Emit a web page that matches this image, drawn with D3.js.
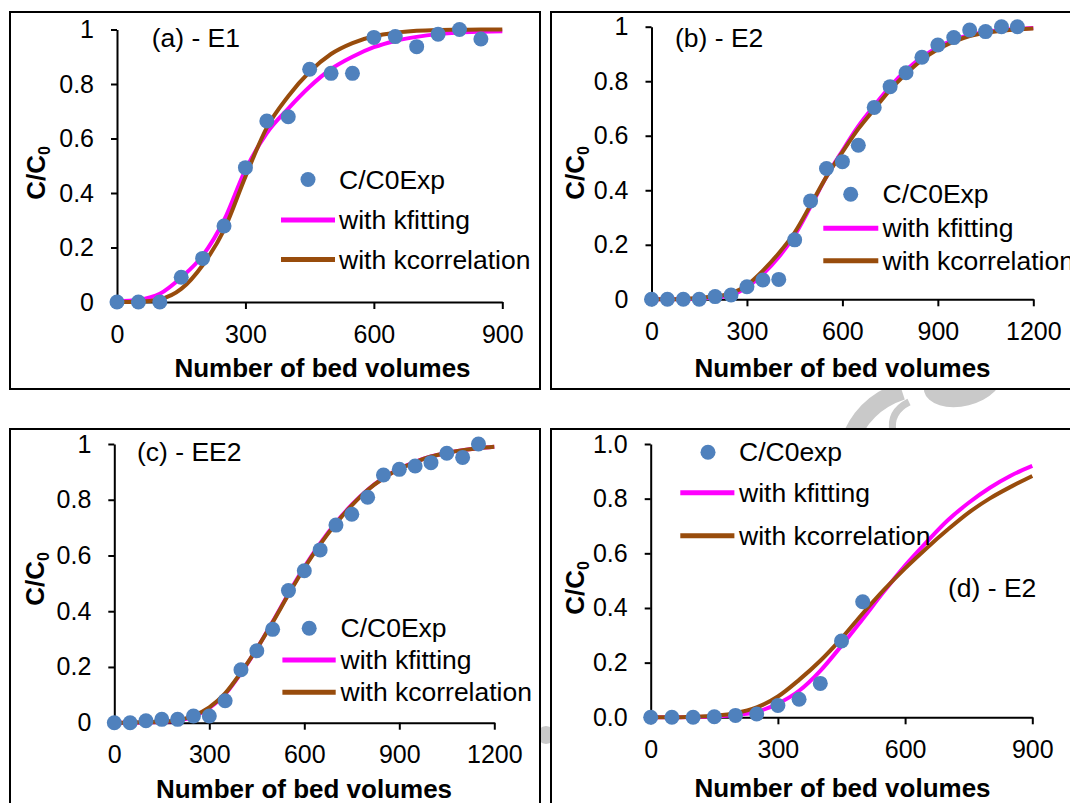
<!DOCTYPE html>
<html>
<head>
<meta charset="utf-8">
<script src="https://cdn.jsdelivr.net/npm/d3@7"></script>
<style>
  body { margin: 0; background: #fff; }
  svg text { font-family: "Liberation Sans", Arial, Helvetica, sans-serif; }
</style>
</head>
<body>
<div id="chart"></div>
<script>
// ---- data ----
const X_TICKS_900 = [0, 300, 600, 900];
const X_TICKS_1200 = [0, 300, 600, 900, 1200];
const Y_TICKS = [0, 0.2, 0.4, 0.6, 0.8, 1];

/** (a) - E1 */
const BV_EXP_A = [0, 50, 100, 150, 200, 250, 300, 350, 400, 450, 500, 550, 600, 650, 700, 750, 800, 850];
const EXP_A = [0, 0, 0, 0.091, 0.16, 0.279, 0.493, 0.664, 0.68, 0.854, 0.839, 0.839, 0.971, 0.974, 0.937, 0.983, 1.0, 0.965];
const BV_CURVE_A = [0, 50, 100, 150, 200, 250, 300, 350, 400, 450, 500, 550, 600, 650, 700, 750, 800, 850, 900];
const KFIT_A = [0.002, 0.008, 0.03, 0.09, 0.17, 0.30, 0.485, 0.62, 0.71, 0.79, 0.855, 0.90, 0.935, 0.958, 0.973, 0.983, 0.989, 0.992, 0.994];
const KCOR_A = [0, 0.001, 0.01, 0.048, 0.135, 0.265, 0.46, 0.64, 0.755, 0.845, 0.91, 0.95, 0.975, 0.988, 0.995, 0.998, 0.999, 1, 1];

/** (b) - E2 */
const BV_EXP_B = [0, 50, 100, 150, 200, 250, 300, 350, 400, 450, 500, 550, 600, 650, 700, 750, 800, 850, 900, 950, 1000, 1050, 1100, 1150];
const EXP_B = [0, 0, 0, 0, 0.01, 0.016, 0.046, 0.071, 0.073, 0.218, 0.361, 0.48, 0.505, 0.565, 0.704, 0.78, 0.831, 0.888, 0.933, 0.96, 0.988, 0.982, 1.0, 1.0];
const BV_CURVE_B = [0, 50, 100, 150, 200, 250, 300, 350, 400, 450, 500, 550, 600, 650, 700, 750, 800, 850, 900, 950, 1000, 1050, 1100, 1150, 1200];
const KFIT_B = [0, 0, 0.001, 0.003, 0.007, 0.015, 0.045, 0.092, 0.155, 0.235, 0.34, 0.45, 0.545, 0.635, 0.71, 0.78, 0.84, 0.888, 0.925, 0.952, 0.97, 0.981, 0.988, 0.992, 0.995];
const KCOR_B = [0, 0, 0.002, 0.005, 0.011, 0.022, 0.052, 0.105, 0.169, 0.245, 0.346, 0.45, 0.54, 0.625, 0.697, 0.768, 0.827, 0.878, 0.917, 0.945, 0.966, 0.978, 0.985, 0.99, 0.993];

/** (c) - EE2 */
const BV_EXP_C = [0, 50, 100, 150, 200, 250, 300, 350, 400, 450, 500, 550, 600, 650, 700, 750, 800, 850, 900, 950, 1000, 1050, 1100, 1150];
const EXP_C = [0, 0, 0.007, 0.012, 0.012, 0.024, 0.024, 0.079, 0.19, 0.258, 0.335, 0.474, 0.545, 0.62, 0.709, 0.748, 0.809, 0.889, 0.909, 0.921, 0.933, 0.967, 0.952, 1.0];
const BV_CURVE_C = [0, 50, 100, 150, 200, 250, 300, 350, 400, 450, 500, 550, 600, 650, 700, 750, 800, 850, 900, 950, 1000, 1050, 1100, 1150, 1200];
const KFIT_C = [0, 0, 0.001, 0.003, 0.008, 0.022, 0.052, 0.102, 0.178, 0.265, 0.362, 0.463, 0.558, 0.643, 0.718, 0.782, 0.836, 0.878, 0.911, 0.936, 0.955, 0.968, 0.978, 0.985, 0.99];
const KCOR_C = [0, 0, 0.002, 0.004, 0.009, 0.025, 0.055, 0.105, 0.18, 0.265, 0.36, 0.46, 0.555, 0.64, 0.715, 0.78, 0.835, 0.877, 0.91, 0.935, 0.955, 0.968, 0.978, 0.985, 0.99];

/** (d) - E2 */
const BV_EXP_D = [0, 50, 100, 150, 200, 250, 300, 350, 400, 450, 500];
const EXP_D = [0, 0, 0, 0.002, 0.007, 0.012, 0.043, 0.066, 0.124, 0.279, 0.423];
const BV_CURVE_D = [0, 50, 100, 150, 200, 250, 300, 350, 400, 450, 500, 550, 600, 650, 700, 750, 800, 850, 900];
const KFIT_D = [0, 0, 0.001, 0.003, 0.008, 0.02, 0.05, 0.097, 0.17, 0.262, 0.36, 0.46, 0.555, 0.64, 0.72, 0.785, 0.84, 0.885, 0.92];
const KCOR_D = [0, 0, 0.002, 0.006, 0.015, 0.036, 0.076, 0.137, 0.207, 0.289, 0.38, 0.466, 0.545, 0.618, 0.686, 0.749, 0.801, 0.844, 0.883];

const LEGEND_FIT = 'with kfitting';
const LEGEND_COR = 'with kcorrelation';
const X_TITLE = 'Number of bed volumes';

// ---- styles ----
const BLUE = '#4f81bd';
const PINK = '#ff00ff';
const BROWN = '#984c0c';
const TICK_FS = 25;
const TEXT_FS = 26.5;

const PANELS = [
    {
        box: [10, 12, 530, 377], xr: [117, 502.3], yr: [302, 29.5], xMax: 900, xTicks: X_TICKS_900, yFmt: d3.format('~g'),
        bv: BV_EXP_A, exp: EXP_A, cbv: BV_CURVE_A, kfit: KFIT_A, kcor: KCOR_A,
        tag: '(a) - E1', tagPos: [151.7, 47], yLab: [44.8, 173], xLab: [322.5, 377],
        expName: 'C/C0Exp', leg: { mx: 308, my: 179.5, l0: 281, l1: 335, ly1: 220, ly2: 259.5, tx: 339 }
    },
    {
        box: [551, 12, 540, 377], xr: [651.5, 1033.3], yr: [299.3, 26.7], xMax: 1200, xTicks: X_TICKS_1200, yFmt: d3.format('~g'),
        bv: BV_EXP_B, exp: EXP_B, cbv: BV_CURVE_B, kfit: KFIT_B, kcor: KCOR_B,
        tag: '(b) - E2', tagPos: [675, 47], yLab: [584, 173], xLab: [842.5, 376.7],
        expName: 'C/C0Exp', leg: { mx: 850.7, my: 194.3, l0: 823.3, l1: 878.3, ly1: 228.3, ly2: 260.7, tx: 882.5 }
    },
    {
        box: [10, 429, 530, 400], xr: [114.3, 494.3], yr: [722.7, 444], xMax: 1200, xTicks: X_TICKS_1200, yFmt: d3.format('~g'),
        bv: BV_EXP_C, exp: EXP_C, cbv: BV_CURVE_C, kfit: KFIT_C, kcor: KCOR_C,
        tag: '(c) - EE2', tagPos: [137, 461], yLab: [43.5, 579], xLab: [304, 798],
        expName: 'C/C0Exp', leg: { mx: 309.2, my: 628.3, l0: 282.4, l1: 335.7, ly1: 660, ly2: 692.3, tx: 340.5 }
    },
    {
        box: [551, 429, 540, 400], xr: [650.7, 1032.3], yr: [717.3, 444], xMax: 900, xTicks: X_TICKS_900, yFmt: d3.format('.1f'),
        bv: BV_EXP_D, exp: EXP_D, cbv: BV_CURVE_D, kfit: KFIT_D, kcor: KCOR_D,
        tag: '(d) - E2', tagPos: [948, 597], yLab: [584, 588], xLab: [842.5, 796.7],
        expName: 'C/C0exp', leg: { mx: 708, my: 452.3, l0: 680.3, l1: 734.4, ly1: 492.7, ly2: 535.7, tx: 739 }
    }
];

const svg = d3.select('#chart')
    .append('svg')
    .attr('width', 1070)
    .attr('height', 803);

/** faint watermark, only seen in the gaps between the boxes */
const wm = svg.append('g').attr('fill', '#c9c9c9').attr('stroke', '#c9c9c9');
wm.append('path').attr('d', 'M848,445 Q862,404 902,391').attr('fill', 'none').attr('stroke-width', 18);
wm.append('path').attr('d', 'M893,432 Q889,412 909,402').attr('fill', 'none').attr('stroke-width', 7);
wm.append('ellipse').attr('cx', 963).attr('cy', 382).attr('rx', 40).attr('ry', 24)
    .attr('transform', 'rotate(-14 963 382)').attr('stroke', 'none');
wm.append('circle').attr('cx', 546).attr('cy', 735).attr('r', 9).attr('stroke', 'none');

function drawPanel(p) {
    const g = svg.append('g');

    g.append('rect')
        .attr('x', p.box[0]).attr('y', p.box[1])
        .attr('width', p.box[2]).attr('height', p.box[3])
        .attr('fill', '#fff')
        .attr('stroke', '#000')
        .attr('stroke-width', 2);

    const xScale = d3.scaleLinear().domain([0, p.xMax]).range(p.xr);
    const yScale = d3.scaleLinear().domain([0, 1]).range(p.yr);

    /** axes */
    const xAxis = d3.axisBottom(xScale).tickValues(p.xTicks).tickSize(7).tickSizeOuter(0)
        .tickPadding(16).tickFormat(d3.format('d'));
    const yAxis = d3.axisLeft(yScale).tickValues(Y_TICKS).tickSize(6).tickSizeOuter(0)
        .tickPadding(17).tickFormat(p.yFmt);

    [g.append('g').attr('transform', `translate(0, ${p.yr[0]})`).call(xAxis),
     g.append('g').attr('transform', `translate(${p.xr[0]}, 0)`).call(yAxis)]
        .forEach((a) => {
            a.attr('font-size', TICK_FS).attr('font-family', null);
            a.selectAll('path, line').attr('stroke', '#000').attr('stroke-width', 2);
            a.selectAll('text').attr('fill', '#000');
        });

    /** model curves */
    const line = d3.line()
        .x((d) => xScale(d[0]))
        .y((d) => yScale(d[1]))
        .curve(d3.curveMonotoneX);

    g.append('path')
        .attr('d', line(d3.zip(p.cbv, p.kfit)))
        .attr('fill', 'none').attr('stroke', PINK).attr('stroke-width', 4);
    g.append('path')
        .attr('d', line(d3.zip(p.cbv, p.kcor)))
        .attr('fill', 'none').attr('stroke', BROWN).attr('stroke-width', 4);

    /** experimental points */
    g.selectAll('circle.exp')
        .data(d3.zip(p.bv, p.exp))
        .enter()
        .append('circle')
        .attr('class', 'exp')
        .attr('cx', (d) => xScale(d[0]))
        .attr('cy', (d) => yScale(d[1]))
        .attr('r', 7.5)
        .attr('fill', BLUE);

    /** titles */
    g.append('text')
        .attr('x', p.xLab[0]).attr('y', p.xLab[1])
        .attr('text-anchor', 'middle')
        .attr('font-size', 26).attr('font-weight', 'bold')
        .text(X_TITLE);

    const yl = g.append('text')
        .attr('transform', `translate(${p.yLab[0]}, ${p.yLab[1]}) rotate(-90)`)
        .attr('text-anchor', 'middle')
        .attr('font-size', 26).attr('font-weight', 'bold');
    yl.append('tspan').text('C/C');
    yl.append('tspan').attr('font-size', 16).attr('dy', 5).text('0');

    g.append('text')
        .attr('x', p.tagPos[0]).attr('y', p.tagPos[1])
        .attr('font-size', TEXT_FS)
        .text(p.tag);

    /** legend */
    const L = p.leg;
    g.append('circle').attr('cx', L.mx).attr('cy', L.my).attr('r', 7.5).attr('fill', BLUE);
    g.append('line').attr('x1', L.l0).attr('x2', L.l1).attr('y1', L.ly1).attr('y2', L.ly1)
        .attr('stroke', PINK).attr('stroke-width', 5);
    g.append('line').attr('x1', L.l0).attr('x2', L.l1).attr('y1', L.ly2).attr('y2', L.ly2)
        .attr('stroke', BROWN).attr('stroke-width', 5);
    [[p.expName, L.my], [LEGEND_FIT, L.ly1], [LEGEND_COR, L.ly2]].forEach(([t, y]) => {
        g.append('text')
            .attr('x', L.tx).attr('y', y + 9)
            .attr('font-size', TEXT_FS)
            .text(t);
    });
}

PANELS.forEach(drawPanel);
</script>
</body>
</html>
